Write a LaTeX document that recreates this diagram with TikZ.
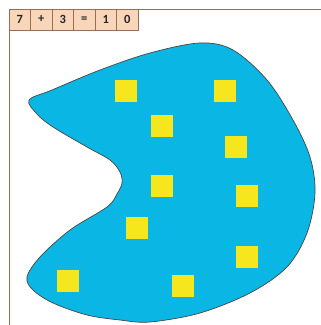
\documentclass[tikz,border=0pt]{standalone}
\usepackage{fontspec}
\setmainfont{Carlito}
\definecolor{blobfill}{RGB}{10,183,228}
\definecolor{blobedge}{RGB}{70,70,70}
\definecolor{sqfill}{RGB}{245,230,30}
\definecolor{boxfill}{RGB}{249,214,186}
\definecolor{boxedge}{RGB}{150,110,85}
\tikzset{
  digit/.style={draw=boxedge, fill=boxfill, line width=0.7pt, minimum width=21.5pt, minimum height=21pt, inner sep=0pt, font=\bfseries\fontsize{12.5pt}{12.5pt}\selectfont, text=black!85},
  sq/.style={fill=sqfill, minimum size=22pt, inner sep=0pt}
}
\begin{document}
\begin{tikzpicture}[x=1pt,y=-1pt]
\useasboundingbox (0,0) rectangle (321,325);
\fill[white] (0,0) rectangle (321,325);
% frame
\draw[boxedge, line width=0.7pt] (9,325) -- (9,9) -- (321,9);
% blob
\draw[blobedge, fill=blobfill, line width=0.7pt] plot[smooth cycle, tension=0.55] coordinates {
(29,100) (52,90) (100,70) (150,53) (200,43) (233,50) (267,80) (293,120) (310,157) (315,193)
(307,233) (287,267) (250,293) (200,313) (150,322) (120,320) (87,315) (53,303) (33,290) (27,277)
(40,257) (70,230) (107,207) (117,194) (122,183) (120,172) (110,160) (87,147) (53,127) (37,114)};
% squares
\node[sq] (s1) at (126,91) {};
\node[sq] (s2) at (225,91) {};
\node[sq] (s3) at (162,126) {};
\node[sq] (s4) at (236,147) {};
\node[sq] (s5) at (162,186) {};
\node[sq] (s6) at (247,196) {};
\node[sq] (s7) at (137,228) {};
\node[sq] (s8) at (247,257) {};
\node[sq] (s9) at (68,281) {};
\node[sq] (s10) at (183,286) {};
% equation boxes
\node[digit] (d1) at (19.8,19.5) {7};
\node[digit] (d2) at (41.3,19.5) {+};
\node[digit] (d3) at (62.8,19.5) {3};
\node[digit] (d4) at (84.3,19.5) {=};
\node[digit] (d5) at (105.8,19.5) {1};
\node[digit] (d6) at (127.3,19.5) {0};
\end{tikzpicture}
\end{document}
